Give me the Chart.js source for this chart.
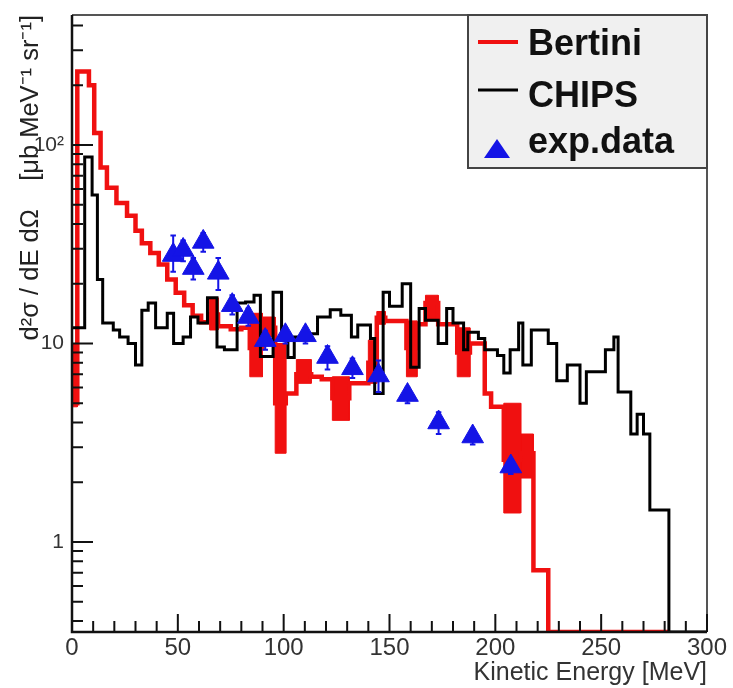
<!DOCTYPE html>
<html>
<head>
<meta charset="utf-8">
<script src="https://cdn.jsdelivr.net/npm/chart.js@4.4.0/dist/chart.umd.min.js"></script>
<style>
  html, body { margin: 0; padding: 0; background: #fff; }
  #wrap { width: 733px; height: 688px; }
</style>
</head>
<body>
<div id="wrap"><canvas id="myChart" width="733" height="688"></canvas></div>
<script>
'use strict';

// Bertini histogram: bin edges [MeV] and bin contents (0 = empty bin)
var bertiniEdges = [0, 2.5, 8, 10.5, 13.5, 16.5, 21, 26, 30, 33, 37, 41, 45, 49, 53, 57, 61, 65, 69, 75,
  80, 84, 90, 96, 101, 106, 113, 118, 123, 131, 140, 144, 148, 158, 163, 167, 173, 182, 188, 195,
  198, 204, 212, 218, 225, 282];
var bertiniValues = [5, 235, 200, 115, 77, 61, 51, 44, 37, 32, 28.6, 25, 21, 18, 15.6, 13.8, 12.8, 14, 12.2, 11.8,
  12, 9.5, 12, 5, 5.6, 7.0, 6.8, 6.6, 5.3, 6.3, 8, 13.5, 13, 9.5, 12.5, 16, 12.5, 9, 10, 5.6,
  4.8, 2.6, 2.8, 0.72, 0];

// Bertini error boxes
var boxFrom = [0, 65, 84, 90, 96, 106, 123, 140, 144, 158, 167, 182, 204, 212];
var boxTo   = [2.5, 69, 90, 96, 101, 113, 131, 144, 148, 163, 173, 188, 212, 218];
var boxLow  = [4.8, 11.7, 6.8, 10.8, 2.8, 6.3, 4.1, 6.3, 12.5, 6.8, 13, 6.8, 1.4, 2.1];
var boxHigh = [10, 17, 14.2, 13.6, 10, 8.3, 6.8, 10.4, 14.5, 13, 17.5, 12, 5.0, 3.5];

// CHIPS histogram
var chipsEdges = [0, 6, 9.5, 12, 14.5, 19.5, 22.5, 26.5, 30, 33, 36, 39.5, 45, 48, 52.5, 56, 59.5, 64, 68.5, 72,
  78, 82, 86, 89, 95, 99, 102, 105, 110, 116, 122, 127, 132, 135, 141, 143, 147, 150, 156, 160,
  164, 167, 173, 177, 180, 185, 187, 192, 195, 201, 204, 207, 211, 213, 217, 225, 229, 234, 240, 243,
  252, 256, 258, 264, 267, 270, 273, 282, 300];
var chipsValues = [12, 87, 56, 21, 12.7, 11.7, 10.8, 10.0, 7.8, 14.7, 16.0, 12.0, 14.2, 10.0, 10.8, 13.6, 12.7, 17.0, 9.6, 9.3,
  16, 16.2, 17.5, 8.6, 18.1, 10.4, 8.5, 10.8, 11.2, 13.6, 14.8, 13.9, 10.8, 12.4, 10.6, 5.6, 18.1, 15.4, 20, 7.6,
  15, 13.1, 10, 15, 12.7, 9.3, 11.4, 10.6, 9.3, 8.7, 7.1, 9.3, 12.7, 7.8, 11.7, 10, 6.5, 7.8, 5.0, 7.2,
  9.3, 10.8, 5.7, 3.5, 4.4, 3.5, 1.45, 0];

// experimental points
var expEnergy = [47.8, 52.5, 57.3, 62.0, 69.1, 75.7, 83.3, 91.3, 100.8, 110.3, 120.7, 132.5, 144.8, 158.5, 173.2, 189.3, 207.3];
var expValue  = [27.9, 29.6, 24.0, 32.5, 22.7, 15.6, 13.6, 10.4, 11.0, 11.0, 8.55, 7.5, 6.9, 5.5, 4.0, 3.4, 2.4];
var expLow    = [23, 26, 21, 29, 18.6, 14, 12.3, 9.3, 10, 10, 7.4, 6.7, 5.7, 5, 3.5, 3.1, 2.2];
var expHigh   = [35, 33, 27, 36, 27, 17.5, 15, 11.6, 12, 12, 9.7, 8.4, 8.2, 6, 4.5, 3.7, 2.6];

// axes
var xMajorTicks = [0, 50, 100, 150, 200, 250, 300];
var xMinorTicks = [10, 20, 30, 40, 60, 70, 80, 90, 110, 120, 130, 140, 160, 170, 180, 190, 210, 220, 230, 240, 260, 270, 280, 290];
var yMajorTicks = [1, 10, 100];
var yMajorLabels = ['1', '10', '10²'];
var yMinorTicks = [0.4, 0.5, 0.6, 0.7, 0.8, 0.9, 2, 3, 4, 5, 6, 7, 8, 9, 20, 30, 40, 50, 60, 70, 80, 90, 200, 300, 400];
var yMin = 0.352, yMax = 452;

var RED = '#f01010', BLACK = '#000000', BLUE = '#1414e6';
var FONT = "'Liberation Sans', Arial, Helvetica, sans-serif";

function floorLog(v) { return v > 0 ? v : yMin; }

function histPoints(edges, values) {
  var pts = [];
  for (var i = 0; i < values.length; i++) {
    pts.push({ x: edges[i], y: floorLog(values[i]) });
  }
  pts.push({ x: edges[edges.length - 1], y: floorLog(values[values.length - 1]) });
  return pts;
}

var datasets = [];

datasets.push({
  label: 'exp.data',
  data: expEnergy.map(function(e, i) { return { x: e, y: expValue[i] }; }),
  showLine: false,
  pointStyle: 'triangle',
  pointRadius: 12.5,
  pointBackgroundColor: BLUE,
  pointBorderColor: BLUE,
  pointBorderWidth: 1,
  order: 0
});

var errPts = [];
expEnergy.forEach(function(e, i) {
  errPts.push({ x: e, y: expLow[i] }, { x: e, y: expHigh[i] }, { x: e, y: null });
  errPts.push({ x: e - 1.3, y: expHigh[i] }, { x: e + 1.3, y: expHigh[i] }, { x: e, y: null });
  errPts.push({ x: e - 1.3, y: expLow[i] }, { x: e + 1.3, y: expLow[i] }, { x: e, y: null });
});
datasets.push({
  label: 'exp.err',
  data: errPts,
  borderColor: BLUE,
  borderWidth: 2,
  pointRadius: 0,
  spanGaps: false,
  order: 1
});

datasets.push({
  label: 'CHIPS',
  data: histPoints(chipsEdges, chipsValues),
  stepped: 'before',
  borderColor: BLACK,
  borderWidth: 3,
  pointRadius: 0,
  order: 2
});

datasets.push({
  label: 'Bertini',
  data: histPoints(bertiniEdges, bertiniValues),
  stepped: 'before',
  borderColor: RED,
  borderWidth: 4.5,
  pointRadius: 0,
  order: 3
});

for (var b = 0; b < boxFrom.length; b++) {
  datasets.push({
    label: 'box',
    data: [
      { x: boxFrom[b], y: boxLow[b] }, { x: boxFrom[b], y: boxHigh[b] },
      { x: boxTo[b], y: boxHigh[b] }, { x: boxTo[b], y: boxLow[b] },
      { x: boxFrom[b], y: boxLow[b] }
    ],
    fill: 'shape',
    backgroundColor: RED,
    borderColor: RED,
    borderWidth: 1,
    pointRadius: 0,
    order: 4
  });
}

// ROOT style frame, inward ticks and boxed legend
var rootAxes = {
  id: 'rootAxes',
  afterDatasetsDraw: function(chart) {
    var ctx = chart.ctx, a = chart.chartArea, xs = chart.scales.x, ys = chart.scales.y;
    ctx.save();
    ctx.lineCap = 'butt';
    ctx.strokeStyle = '#555';
    ctx.lineWidth = 2;
    ctx.beginPath();
    ctx.moveTo(a.left, a.top); ctx.lineTo(a.right, a.top); ctx.lineTo(a.right, a.bottom);
    ctx.stroke();
    ctx.strokeStyle = '#111';
    ctx.lineWidth = 2.5;
    ctx.beginPath();
    ctx.moveTo(a.left, a.top); ctx.lineTo(a.left, a.bottom); ctx.lineTo(a.right, a.bottom);
    ctx.stroke();
    ctx.lineWidth = 2;
    ctx.beginPath();
    xMajorTicks.forEach(function(v) {
      var p = xs.getPixelForValue(v);
      ctx.moveTo(p, a.bottom); ctx.lineTo(p, a.bottom - 18);
    });
    xMinorTicks.forEach(function(v) {
      var p = xs.getPixelForValue(v);
      ctx.moveTo(p, a.bottom); ctx.lineTo(p, a.bottom - 11);
    });
    yMajorTicks.forEach(function(v) {
      var p = ys.getPixelForValue(v);
      ctx.moveTo(a.left, p); ctx.lineTo(a.left + 21, p);
    });
    yMinorTicks.forEach(function(v) {
      var p = ys.getPixelForValue(v);
      ctx.moveTo(a.left, p); ctx.lineTo(a.left + 11, p);
    });
    ctx.stroke();
    ctx.restore();
  },
  afterDraw: function(chart) {
    var ctx = chart.ctx, a = chart.chartArea;
    var lx = a.right - 239, ly = a.top, lw = 239, lh = 153;
    ctx.save();
    ctx.fillStyle = '#f0f0f0';
    ctx.fillRect(lx, ly, lw, lh);
    ctx.strokeStyle = '#444';
    ctx.lineWidth = 2;
    ctx.strokeRect(lx, ly, lw, lh);
    // samples
    ctx.lineWidth = 4;
    ctx.strokeStyle = RED;
    ctx.beginPath(); ctx.moveTo(lx + 10, ly + 27); ctx.lineTo(lx + 50, ly + 27); ctx.stroke();
    ctx.lineWidth = 3;
    ctx.strokeStyle = BLACK;
    ctx.beginPath(); ctx.moveTo(lx + 10, ly + 75); ctx.lineTo(lx + 50, ly + 75); ctx.stroke();
    ctx.fillStyle = BLUE;
    ctx.beginPath();
    ctx.moveTo(lx + 29, ly + 124); ctx.lineTo(lx + 42, ly + 143); ctx.lineTo(lx + 16, ly + 143);
    ctx.closePath(); ctx.fill();
    // labels
    ctx.fillStyle = '#111';
    ctx.font = 'bold 36px ' + FONT;
    ctx.textBaseline = 'alphabetic';
    ctx.textAlign = 'left';
    ctx.fillText('Bertini', lx + 60, ly + 40);
    ctx.fillText('CHIPS', lx + 60, ly + 92);
    ctx.fillText('exp.data', lx + 60, ly + 138);
    ctx.restore();
  }
};

var ctx = document.getElementById('myChart').getContext('2d');

var chart = new Chart(ctx, {
  type: 'line',
  data: { datasets: datasets },
  options: {
    responsive: false,
    animation: false,
    devicePixelRatio: 1,
    layout: { padding: { top: 15, right: 26, left: 0, bottom: 0 } },
    plugins: {
      legend: { display: false },
      tooltip: { enabled: false }
    },
    scales: {
      x: {
        type: 'linear',
        min: 0,
        max: 300,
        afterFit: function(s) { s.height = 56; s.paddingLeft = 0; s.paddingRight = 0; },
        afterBuildTicks: function(s) {
          s.ticks = xMajorTicks.map(function(v) { return { value: v }; });
        },
        grid: { display: false, drawTicks: false },
        border: { display: false },
        ticks: {
          padding: 2,
          maxRotation: 0,
          color: '#333',
          font: { family: FONT, size: 24 }
        },
        title: {
          display: true,
          text: 'Kinetic Energy [MeV]',
          align: 'end',
          color: '#333',
          padding: { top: 0, bottom: 0 },
          font: { family: FONT, size: 25 }
        }
      },
      y: {
        type: 'logarithmic',
        min: yMin,
        max: yMax,
        afterFit: function(s) { s.width = 72; s.paddingTop = 0; s.paddingBottom = 0; },
        afterBuildTicks: function(s) {
          s.ticks = yMajorTicks.map(function(v) { return { value: v, major: true }; });
        },
        grid: { display: false, drawTicks: false },
        border: { display: false },
        ticks: {
          padding: 8,
          color: '#333',
          font: { family: FONT, size: 21 },
          callback: function(v) {
            var i = yMajorTicks.indexOf(v);
            return i >= 0 ? yMajorLabels[i] : '';
          }
        },
        title: {
          display: true,
          text: 'd²σ / dE dΩ    [μb MeV⁻¹ sr⁻¹]',
          align: 'end',
          color: '#222',
          padding: { top: 16, bottom: 0 },
          font: { family: FONT, size: 25.5 }
        }
      }
    }
  },
  plugins: [rootAxes]
});
</script>
</body>
</html>
